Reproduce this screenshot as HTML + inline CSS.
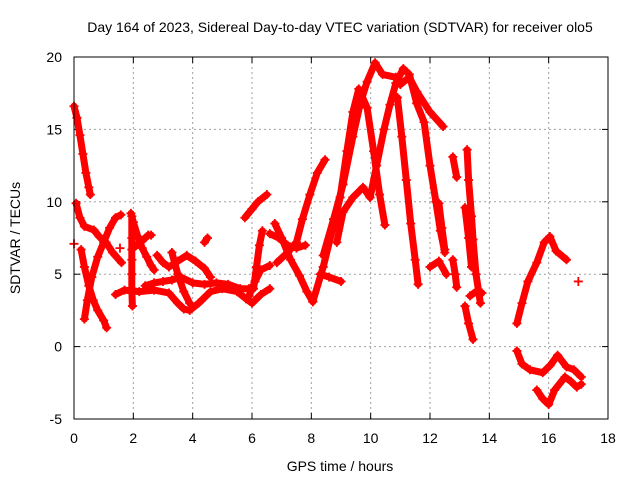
<!DOCTYPE html>
<html><head><meta charset="utf-8"><style>
body{margin:0;background:#fff}
svg{display:block;font-family:"Liberation Sans",sans-serif}
</style></head><body>
<svg id="chart" width="640" height="480" viewBox="0 0 640 480">
<text x="340" y="32" font-size="14" text-anchor="middle">Day 164 of 2023, Sidereal Day-to-day VTEC variation (SDTVAR) for receiver olo5</text>
<text x="340" y="471" font-size="14" text-anchor="middle">GPS time / hours</text>
<text transform="translate(20,238) rotate(-90)" font-size="14" text-anchor="middle">SDTVAR / TECUs</text>
<g id="grid"></g><g id="ticks"></g><g id="marks"></g>
<rect x="74" y="57" width="534" height="362" fill="none" stroke="#000" stroke-width="1"/>
</svg>
<script>
const xTicks=[0,2,4,6,8,10,12,14,16,18];
const yTicks=[-5,0,5,10,15,20];
const trackA=[[0,16.6],[0.1,15.8],[0.2,14.6],[0.3,13.3],[0.4,12],[0.5,11],[0.55,10.5]];
const trackB=[[0.07,9.9],[0.2,8.9],[0.35,8.3],[0.67,8.05],[0.85,7.6],[1.08,7.2],[1.3,6.5],[1.6,5.8]];
const trackC=[[0.35,1.9],[0.45,3.2],[0.6,4.8],[0.8,6.2],[1.0,7.2],[1.2,8.2],[1.4,8.9],[1.58,9.1]];
const trackD=[[0.24,6.7],[0.35,5.5],[0.5,4.2],[0.65,3.2],[0.8,2.5],[1.0,1.8],[1.1,1.3]];
const trackE1=[[1.92,9.2],[2.0,8.6],[2.15,7.6],[2.3,6.8],[2.45,6.2],[2.6,5.6],[2.7,5.3]];
const trackE2=[[1.95,6.7],[2.1,7.0],[2.3,7.3],[2.5,7.7],[2.6,7.7]];
const trackE3=[[1.95,9.0],[1.95,7.5],[1.95,6],[1.95,5],[1.95,4],[1.97,2.8]];
const trackF1=[[1.4,3.6],[1.7,3.9],[2.2,3.8],[2.7,3.9],[3.2,3.7],[3.5,3.0],[3.7,2.6],[3.9,2.5],[4.2,3.0],[4.6,3.8],[5.0,4.0],[5.5,3.8],[5.8,3.3],[6.0,3.0],[6.3,3.6],[6.6,4.0]];
const trackF2=[[2.4,4.2],[2.7,4.4],[3.0,4.5],[3.3,4.6],[3.6,4.8],[4.0,4.4],[4.4,4.3],[4.8,4.4],[5.2,4.3],[5.6,4.0],[5.9,4.0]];
const trackF3=[[2.8,6.3],[3.0,5.8],[3.2,5.5],[3.5,5.9],[3.8,6.3],[4.1,5.9],[4.4,5.4],[4.6,4.8]];
const trackF4=[[3.3,6.5],[3.5,5.0],[3.7,3.8],[3.9,3.0]];
const trackF5=[[4.4,7.2],[4.5,7.5]];
const trackG1=[[5.76,8.9],[6.0,9.5],[6.2,10.0],[6.5,10.5]];
const trackG2=[[5.9,3.5],[6.1,4.5],[6.3,5.3],[6.6,5.6]];
const trackG3=[[6.77,8.5],[7.0,7.5],[7.3,6.0],[7.6,4.9],[7.85,3.8],[8.05,3.1]];
const trackG4=[[6.84,5.8],[7.2,6.5],[7.5,7.2],[7.7,8.8],[7.95,10.5],[8.2,12.0],[8.46,12.9]];
const trackG5=[[6.05,4.0],[6.15,5.5],[6.25,7.0],[6.35,8.0]];
const trackG6=[[6.6,7.8],[6.9,7.5],[7.2,7.0],[7.5,6.8],[7.8,7.0]];
const trackH1=[[8.05,3.1],[8.4,5.5],[8.7,8.0],[8.97,10.3],[9.2,13.5],[9.4,16.2],[9.6,17.8],[9.88,16.5],[10.1,13.5],[10.3,10.5],[10.48,8.4]];
const trackH2=[[8.4,6.3],[8.75,8.8],[9.07,11.2],[9.4,14.5],[9.65,16.8],[9.88,18.3],[10.15,19.6],[10.4,18.8],[10.85,18.6],[11.0,18.1],[11.3,18.6],[11.56,17.6],[12.0,16.2],[12.44,15.2]];
const trackH3=[[8.86,7.2],[9.07,9.3],[9.4,10.3],[9.74,11.0],[9.98,10.3],[10.2,12.5],[10.45,15.0],[10.65,16.7],[10.85,18.2],[11.1,19.2],[11.3,18.8]];
const trackH4=[[10.9,17.2],[11.05,14.5],[11.2,11.5],[11.35,8.5],[11.5,6.0],[11.6,4.3]];
const trackH5=[[11.3,18.8],[11.55,16.8],[11.8,15.5],[12.0,12.5],[12.2,10.0],[12.35,8.0],[12.5,6.5]];
const trackH6=[[8.3,5.0],[8.6,4.8],[9.0,4.5]];
const trackI1=[[12.77,13.1],[12.9,11.7]];
const trackI2=[[13.25,13.6],[13.3,11.5],[13.4,9.0],[13.45,7.4],[13.55,5.0],[13.7,3.0]];
const trackI3=[[12.3,9.9],[12.4,8.2],[12.5,6.7]];
const trackI4=[[12.77,6.0],[12.85,5.0],[12.9,4.1]];
const trackI5=[[13.18,9.6],[13.3,7.5],[13.4,5.5]];
const trackI6=[[13.18,2.8],[13.3,1.6],[13.45,0.5]];
const trackI7=[[13.35,3.5],[13.55,3.8],[13.75,3.7]];
const trackI8=[[12.0,5.5],[12.3,5.9],[12.55,5.0]];
const trackJ1=[[14.93,1.6],[15.1,3.0],[15.3,4.5],[15.6,5.8],[15.85,7.2],[16.04,7.6],[16.25,6.6],[16.6,6.0]];
const trackJ2=[[17.0,4.5]];
const trackK1=[[14.93,-0.3],[15.1,-1.2],[15.37,-1.6],[15.8,-1.8],[16.05,-1.3],[16.3,-0.6],[16.6,-1.4],[16.85,-1.6],[17.1,-2.1]];
const trackK2=[[15.6,-3.0],[15.8,-3.6],[16.0,-4.0],[16.2,-3.0],[16.55,-2.1],[16.75,-2.4],[16.95,-2.8],[17.1,-2.6]];
const trackL1=[[0,7.1]];
const trackL2=[[1.55,6.8]];
const tracks=[trackA,trackB,trackC,trackD,trackE1,trackE2,trackE3,trackF1,trackF2,trackF3,trackF4,trackF5,trackG1,trackG2,trackG3,trackG4,trackG5,trackG6,trackH1,trackH2,trackH3,trackH4,trackH5,trackH6,trackI1,trackI2,trackI3,trackI4,trackI5,trackI6,trackI7,trackI8,trackJ1,trackJ2,trackK1,trackK2,trackL1,trackL2];

const NS="http://www.w3.org/2000/svg";
const X0=74,X1=608,Y0=419,Y1=57;
function sx(t){return X0+(t-0)/(18-0)*(X1-X0);}
function sy(v){return Y0-(v+5)/25*(Y0-Y1);}
function mk(tag,attrs,parent){const e=document.createElementNS(NS,tag);for(const k in attrs)e.setAttribute(k,attrs[k]);parent.appendChild(e);return e;}
const grid=document.getElementById('grid'),ticks=document.getElementById('ticks'),marks=document.getElementById('marks');
xTicks.forEach(t=>{const x=sx(t);
 if(t>0&&t<18){const g=mk('line',{x1:x,x2:x,y1:Y1,y2:Y0,stroke:'#a0a0a0','stroke-dasharray':'2,3'},grid);
 
 }
 mk('line',{x1:x,x2:x,y1:Y0,y2:Y0-6,stroke:'#000'},ticks);
 mk('line',{x1:x,x2:x,y1:Y1,y2:Y1+6,stroke:'#000'},ticks);
 const l=mk('text',{x:x,y:443,'font-size':14,'text-anchor':'middle'},ticks);l.textContent=t;
 
 });
yTicks.forEach(v=>{const y=sy(v);
 if(v>-5&&v<20){const g=mk('line',{x1:X0,x2:X1,y1:y,y2:y,stroke:'#a0a0a0','stroke-dasharray':'2,3'},grid);
 
 }
 mk('line',{x1:X0,x2:X0+6,y1:y,y2:y,stroke:'#000'},ticks);
 mk('line',{x1:X1,x2:X1-6,y1:y,y2:y,stroke:'#000'},ticks);
 const l=mk('text',{x:62,y:y+5,'font-size':14,'text-anchor':'end'},ticks);l.textContent=v;
 
 });
tracks.forEach((tr,i)=>{
 const pts=tr.map(p=>sx(p[0]).toFixed(1)+','+sy(p[1]).toFixed(1)).join(' ');
 const pl=mk('polyline',{points:pts,fill:'none',stroke:'#ff0000','stroke-width':7,'stroke-linejoin':'round','stroke-linecap':'round'},marks);
 
 
 tr.forEach(p=>{const x=sx(p[0]),y=sy(p[1]);
  const m=mk('path',{d:`M${x-4.5},${y}H${x+4.5}M${x},${y-4.5}V${y+4.5}`,stroke:'#ff0000','stroke-width':1.8},marks);
  
  });
});
</script>
</body></html>
